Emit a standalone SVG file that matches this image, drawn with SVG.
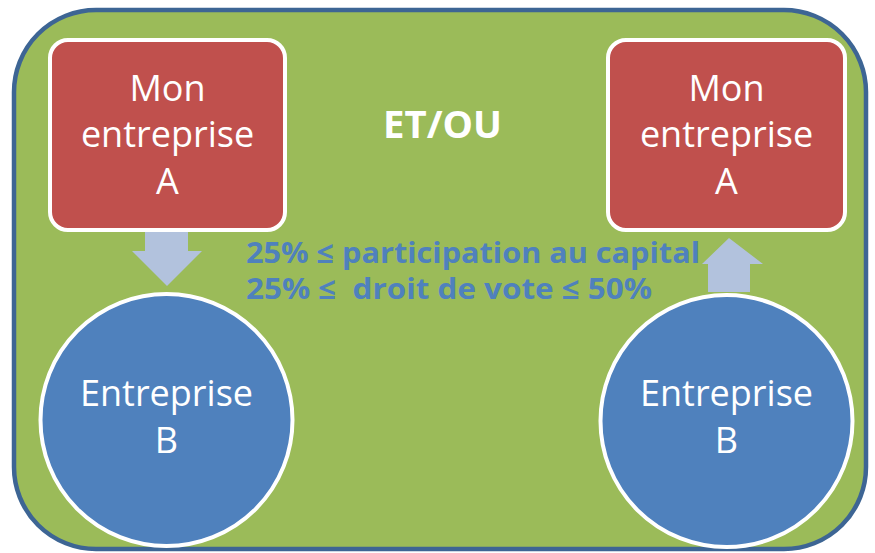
<svg xmlns="http://www.w3.org/2000/svg" width="875" height="553" viewBox="0 0 875 553">
<style>
.box{fill:#c0504d;stroke:#fff;stroke-width:4}
.circ{fill:#4f81bd;stroke:#fff;stroke-width:4}
.arrow{fill:#b2c2dd}
.lbl{font-family:"Open Sans","Liberation Sans",sans-serif;font-size:36px;fill:#fff;text-anchor:middle}
.info{font-family:"Open Sans","Liberation Sans",sans-serif;font-weight:bold;font-size:29px;fill:#4f81bd}
</style>
<rect width="875" height="553" fill="#fff"/>
<g id="frame">
<rect x="14" y="10" width="852" height="539" rx="82" fill="#9bbb59" stroke="#3d6594" stroke-width="4.5"/>
</g>
<g id="connectors">
<polygon class="arrow" points="145,231 188,231 188,251 202,251 167,286 132,251 145,251"/>
<polygon class="arrow" points="708,292 750,292 750,264 763,264 729,238 702,264 708,264"/>
</g>
<g id="nodeA1">
<rect class="box" x="50" y="40" width="235" height="190" rx="18"/>
<text class="lbl"><tspan x="167.5" y="101">Mon</tspan><tspan x="167.5" y="147">entreprise</tspan><tspan x="167.5" y="194">A</tspan></text>
</g>
<g id="nodeA2">
<rect class="box" x="608" y="40" width="237" height="190" rx="18"/>
<text class="lbl"><tspan x="726.5" y="101">Mon</tspan><tspan x="726.5" y="147">entreprise</tspan><tspan x="726.5" y="194">A</tspan></text>
</g>
<g id="nodeB1">
<circle class="circ" cx="166.5" cy="420" r="126"/>
<text class="lbl"><tspan x="166.5" y="406">Entreprise</tspan><tspan x="166.5" y="453">B</tspan></text>
</g>
<g id="nodeB2">
<circle class="circ" cx="726.5" cy="421" r="126"/>
<text class="lbl"><tspan x="726.5" y="406">Entreprise</tspan><tspan x="726.5" y="453">B</tspan></text>
</g>
<g id="labels">
<text x="442.5" y="138" font-family="Open Sans, Liberation Sans, sans-serif" font-weight="bold" font-size="37" fill="#fff" text-anchor="middle" textLength="119" lengthAdjust="spacingAndGlyphs">ET/OU</text>
<text class="info" x="246" y="263" textLength="454" lengthAdjust="spacingAndGlyphs">25% ≤ participation au capital</text>
<text class="info" x="246" y="299" textLength="406" lengthAdjust="spacingAndGlyphs" xml:space="preserve">25% ≤  droit de vote ≤ 50%</text>
</g>
</svg>
